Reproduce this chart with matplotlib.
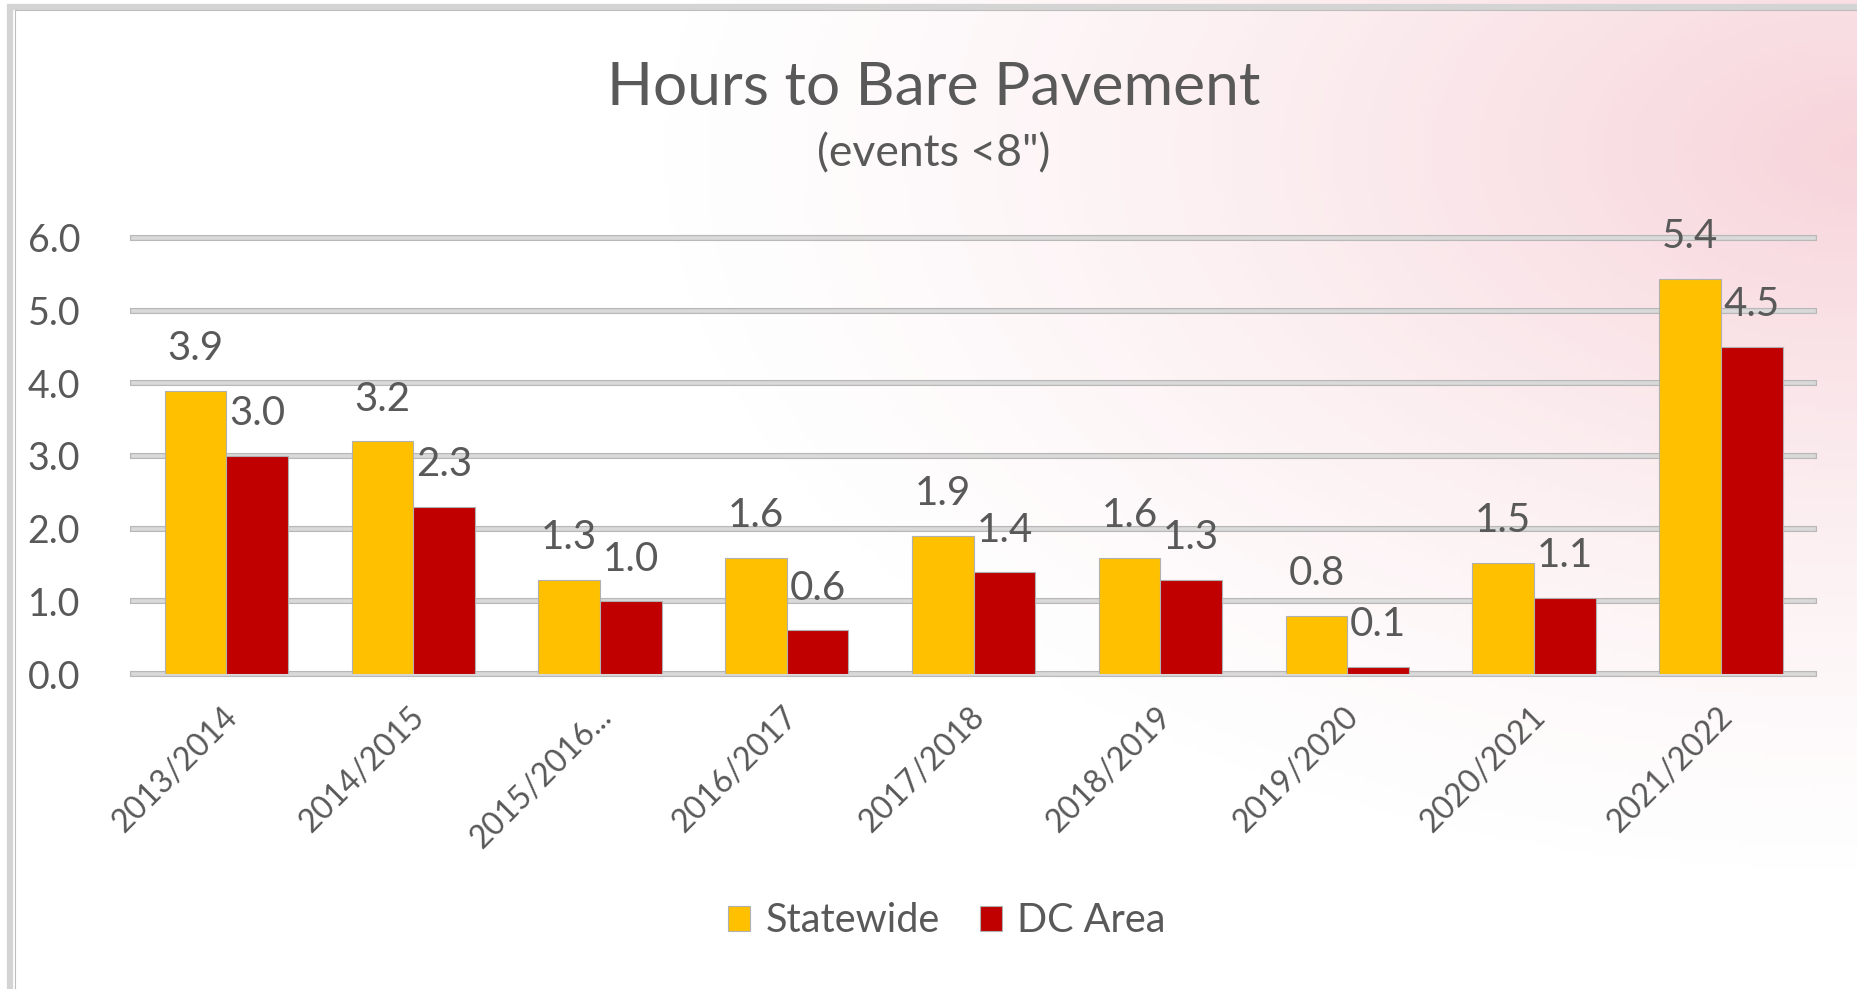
import numpy as np
import matplotlib
matplotlib.use("Agg")
import matplotlib.pyplot as plt

plt.rcParams['font.family'] = ['Lato', 'DejaVu Sans']

# data
seasons = ['2013/2014', '2014/2015', '2015/2016...', '2016/2017', '2017/2018',
           '2018/2019', '2019/2020', '2020/2021', '2021/2022']
statewide = [3.9, 3.2, 1.3, 1.6, 1.9, 1.6, 0.8, 1.53, 5.44]
dc_area = [3.0, 2.3, 1.0, 0.6, 1.4, 1.3, 0.1, 1.05, 4.5]

TXT = '#595959'
YELLOW = '#FFC000'
RED = '#C00000'

fig = plt.figure(figsize=(18.57, 9.89), dpi=100)

# faint pink watermark wash in the top-right corner
bg = fig.add_axes([0, 0, 1, 1], zorder=-5)
h, w = 200, 380
yy, xx = np.mgrid[0:h, 0:w]
d = np.hypot((w - xx) / w * 1.7, (yy / h - 0.15) * 1.5)
a = np.clip(1 - d / 1.15, 0, 1) ** 1.4 * 0.26
img = np.ones((h, w, 4))
img[..., 0] = 0.88
img[..., 1] = 0.35
img[..., 2] = 0.45
img[..., 3] = a
bg.imshow(img, extent=[0, 1, 0, 1], aspect='auto', origin='upper')
bg.set_xlim(0, 1)
bg.set_ylim(0, 1)
bg.axis('off')
# frame on left and top
bg.plot([0.0055, 0.0055, 1.0], [0.0, 0.993, 0.993], color='#d4d4d4', lw=4.5,
        solid_capstyle='butt', solid_joinstyle='miter')
bg.plot([0.0083, 0.0083, 1.0], [0.0, 0.990, 0.990], color='#bdbdbd', lw=0.8)

ax = fig.add_axes([0.0716, 0.3185, 0.9054, 0.4409])
ax.patch.set_alpha(0)

x = np.arange(len(seasons))
bw = 0.33
b1 = ax.bar(x - bw / 2, statewide, bw, color=YELLOW, edgecolor='#b0b0b0', lw=0.8,
            label='Statewide', zorder=3)
b2 = ax.bar(x + bw / 2, dc_area, bw, color=RED, edgecolor='#b0b0b0', lw=0.8,
            label='DC Area', zorder=3)

ax.set_xlim(-0.5, len(seasons) - 0.5)
ax.set_ylim(0, 6)
ax.set_yticks(np.arange(0, 7, 1))
ax.yaxis.set_major_formatter(matplotlib.ticker.FormatStrFormatter('%.1f'))

# 3D-looking grey gridlines
for v in np.arange(0, 7, 1):
    ax.axhline(v, color='#b8b8b8', lw=4.4, zorder=1, clip_on=False)
    ax.axhline(v, color='#dadada', lw=2.6, zorder=1.5, clip_on=False)

for s in ax.spines.values():
    s.set_visible(False)
ax.tick_params(axis='both', length=0, labelsize=27, labelcolor=TXT)
ax.tick_params(axis='y', pad=38)
ax.set_xticks(x)
ax.set_xticklabels(seasons, rotation=45, ha='right', rotation_mode='anchor')
ax.tick_params(axis='x', pad=20)
for lbl in ax.get_xticklabels():
    lbl.set_fontsize(23)
    lbl.set_transform(lbl.get_transform() + matplotlib.transforms.ScaledTranslation(-0.04, 0, fig.dpi_scale_trans))

for bars, vals in ((b1, statewide), (b2, dc_area)):
    for r, v in zip(bars, vals):
        ax.annotate(f'{v:.1f}', (r.get_x() + r.get_width() / 2, r.get_height()),
                    xytext=(0, 17), textcoords='offset points', ha='center',
                    va='bottom', fontsize=29, color=TXT, zorder=5)

fig.text(0.503, 0.911, 'Hours to Bare Pavement', ha='center', va='center',
         fontsize=43.5, color=TXT)
fig.text(0.503, 0.844, '(events <8")', ha='center', va='center',
         fontsize=32, color=TXT)

leg = fig.legend(handles=[b1, b2], loc='center', bbox_to_anchor=(0.510, 0.069),
                 ncol=2, frameon=False, fontsize=28.5, handlelength=0.55,
                 handleheight=0.6, handletextpad=0.4, columnspacing=1.0)
for t in leg.get_texts():
    t.set_color(TXT)

fig.savefig('out.png', dpi=100)
